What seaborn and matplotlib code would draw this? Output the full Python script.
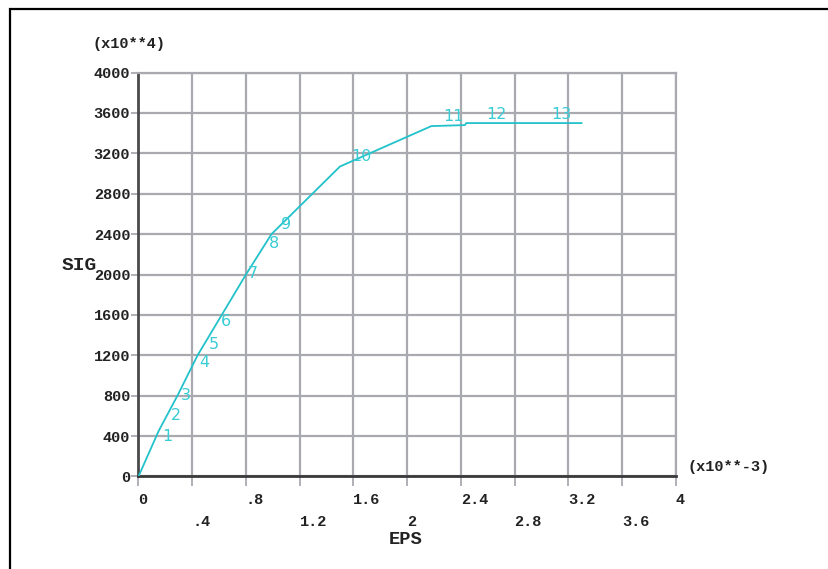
import matplotlib
matplotlib.use("Agg")
import matplotlib.pyplot as plt
from matplotlib.patches import Rectangle
import seaborn as sns
import pandas as pd

# ---- data (EPS in 1e-3, SIG in 1e4) ----
eps = [0, 0.15, 0.29, 0.44, 0.62, 0.80, 0.99, 1.50, 2.18, 2.43, 2.44, 3.30]
sig = [0, 450, 800, 1200, 1600, 2000, 2400, 3070, 3470, 3480, 3500, 3500]

# numbered point labels (centre of each number)
pt_text = ["1", "2", "3", "4", "5", "6", "7", "8", "9", "10", "11", "12", "13"]
pt_eps = [0.214, 0.278, 0.349, 0.490, 0.557, 0.652, 0.849, 1.009, 1.098, 1.659, 2.344, 2.661, 3.151]
pt_sig = [393, 603, 798, 1128, 1310, 1539, 2005, 2307, 2491, 3171, 3567, 3585, 3585]

x_major = [0, 0.8, 1.6, 2.4, 3.2, 4]
x_major_labels = ["0", ".8", "1.6", "2.4", "3.2", "4"]
x_minor = [0.4, 1.2, 2.0, 2.8, 3.6]
x_minor_labels = [".4", "1.2", "2", "2.8", "3.6"]
y_ticks = [0, 400, 800, 1200, 1600, 2000, 2400, 2800, 3200, 3600, 4000]
y_labels = ["0", "400", "800", "1200", "1600", "2000", "2400", "2800", "3200", "3600", "4000"]

df = pd.DataFrame({"EPS": eps, "SIG": sig})

sns.set_style("white")
plt.rcParams["font.family"] = ["DejaVu Sans"]

W, H = 829, 569
fig = plt.figure(figsize=(W / 100, H / 100), dpi=100)
ax = fig.add_axes([138.5 / W, 1 - 476.4 / H, (675.8 - 138.5) / W, (476.4 - 72.6) / H])

curve_c = "#22c2ca"
label_c = "#38ccd4"
grid_c = "#a9a9b0"
text_c = "#222222"

sns.lineplot(data=df, x="EPS", y="SIG", sort=False, estimator=None,
             color=curve_c, lw=1.3, ax=ax, zorder=3)

for t, x, y in zip(pt_text, pt_eps, pt_sig):
    ax.text(x, y, t, ha="center", va="center", color=label_c,
            fontsize=11.5, family="DejaVu Sans", zorder=4)

ax.set_xlim(0, 4)
ax.set_ylim(0, 4000)
ax.set_xlabel("")
ax.set_ylabel("")

ax.set_xticks(x_major)
ax.set_xticklabels(x_major_labels)
ax.set_xticks(x_minor, minor=True)
ax.set_xticklabels(x_minor_labels, minor=True)
ax.set_yticks(y_ticks)
ax.set_yticklabels(y_labels)

ax.grid(True, which="both", color=grid_c, lw=1.6)
ax.set_axisbelow(True)

ax.tick_params(axis="x", which="both", direction="out", length=7.5, width=1.3,
               color=grid_c, labelcolor=text_c, bottom=True)
ax.tick_params(axis="x", which="major", pad=4.5)
ax.tick_params(axis="x", which="minor", pad=20.5)
ax.tick_params(axis="y", which="major", direction="out", length=5, width=1.3,
               color=grid_c, labelcolor=text_c, pad=1, left=True)

for t in ax.get_xticklabels(which="both"):
    t.set_fontfamily("Liberation Mono")
    t.set_fontweight("bold")
    t.set_fontsize(11)
    t.set_horizontalalignment("left")
for t in ax.get_yticklabels():
    t.set_fontfamily("Liberation Mono")
    t.set_fontweight("bold")
    t.set_fontsize(11)

ax.spines["left"].set_color("#4a4a4a")
ax.spines["left"].set_linewidth(2.0)
ax.spines["bottom"].set_color("#3a3a3a")
ax.spines["bottom"].set_linewidth(2.0)
for s in ("top", "right"):
    ax.spines[s].set_color(grid_c)
    ax.spines[s].set_linewidth(1.6)

mono = dict(family="Liberation Mono", weight="bold", color=text_c)
fig.text(79 / W, 1 - 265 / H, "SIG", ha="center", va="center", fontsize=14, **mono)
fig.text(406 / W, 1 - 539.5 / H, "EPS", ha="center", va="center", fontsize=13.5, **mono)
fig.text(93 / W, 1 - 44 / H, "(x10**4)", ha="left", va="center", fontsize=11, **mono)
fig.text(688 / W, 1 - 467.3 / H, "(x10**-3)", ha="left", va="center", fontsize=11, **mono)

fig.add_artist(Rectangle((10 / W, -0.05), 1.2, 1.05 - 9 / H, transform=fig.transFigure,
                         fill=False, ec="black", lw=1.6))

fig.savefig("out.png", dpi=100)
